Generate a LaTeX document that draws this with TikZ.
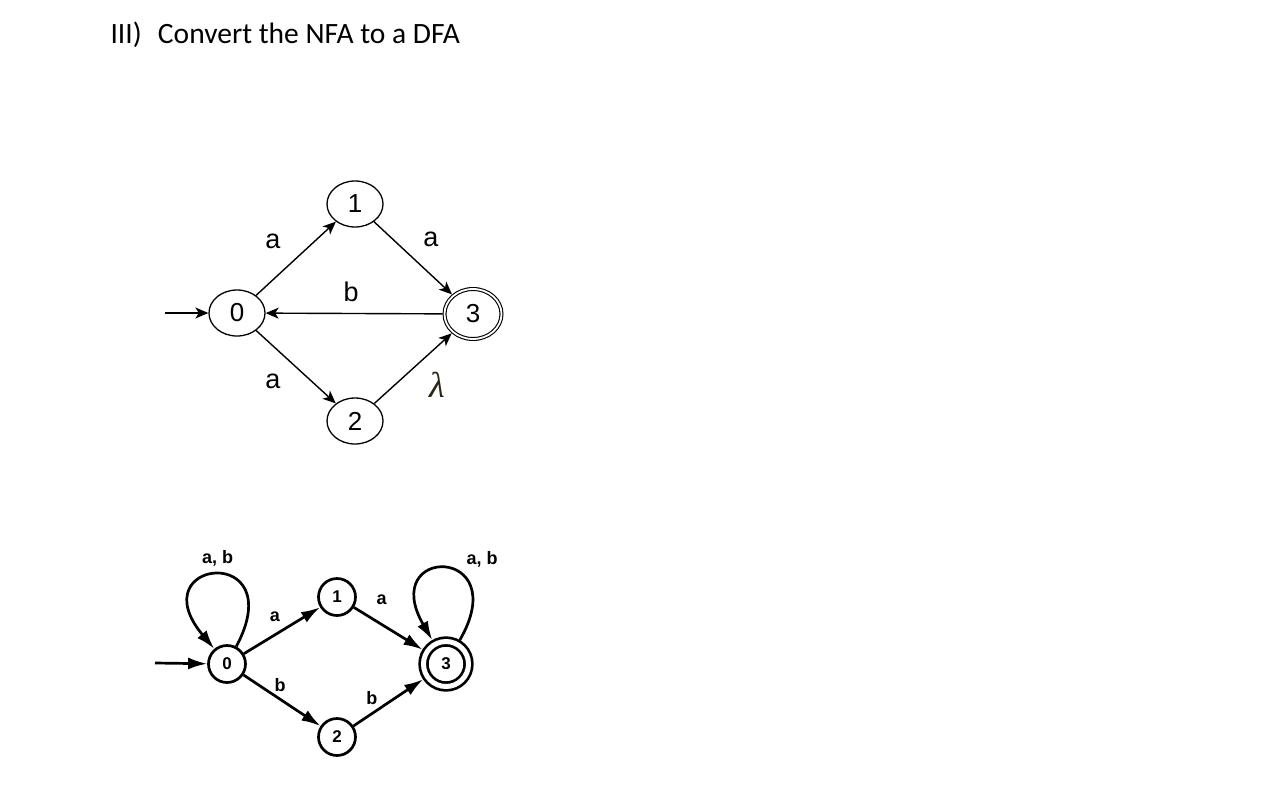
\documentclass[tikz,border=0pt]{standalone}
\usepackage{fontspec}
\setmainfont{Carlito}
\newfontfamily\arialfont{Liberation Sans}
\newfontfamily\lambdafont{Liberation Serif}
\usetikzlibrary{arrows.meta,shapes.geometric}

\begin{document}
\begin{tikzpicture}[x=1pt,y=-1pt,
  nfaState/.style={draw,ellipse,line width=1.3pt,minimum width=56pt,minimum height=46pt,inner sep=0pt,font=\arialfont\fontsize{26}{26}\selectfont},
  nfaFinal/.style={nfaState,double,double distance=1.8pt,line width=1.1pt,minimum width=57pt,minimum height=50pt,outer sep=2pt},
  nfaEdge/.style={line width=1.4pt,-{Stealth[length=13pt,width=11pt,inset=3.5pt]}},
  nfaLabel/.style={font=\arialfont\fontsize{27}{27}\selectfont,inner sep=0pt},
  dfaState/.style={draw,circle,line width=2.7pt,minimum size=37pt,inner sep=0pt,font=\arialfont\bfseries\fontsize{17}{17}\selectfont},
  dfaFinal/.style={dfaState,double,double distance=5pt,minimum size=45pt,outer sep=5pt},
  dfaEdge/.style={line width=2.7pt,-{Latex[length=19pt,width=12pt]}},
  dfaLabel/.style={font=\arialfont\bfseries\fontsize{18}{18}\selectfont,inner sep=0pt}]
\definecolor{lambdaInk}{HTML}{2B2418}
\useasboundingbox (0,0) rectangle (1287,790);
\node[anchor=base west,font=\fontsize{29.5}{29.5}\selectfont] (title) at (107,43) {III)\hspace{0.55em}Convert the NFA to a DFA};

% NFA
\node[nfaState] (n0) at (237,313) {0};
\node[nfaState] (n1) at (355,204) {1};
\node[nfaState] (n2) at (355,421) {2};
\node[nfaFinal] (n3) at (473,314) {3};
\coordinate (nstart) at (165,313);
\draw[nfaEdge] (nstart) -- (n0);
\draw[nfaEdge] (n0) -- node[nfaLabel,xshift=-23pt,yshift=17.5pt] (na01) {a} (n1);
\draw[nfaEdge] (n1) -- node[nfaLabel,xshift=18pt,yshift=18.5pt] (na13) {a} (n3);
\draw[nfaEdge] (n3) -- node[nfaLabel,xshift=-3pt,yshift=21.5pt] (nb30) {b} (n0);
\draw[nfaEdge] (n0) -- node[nfaLabel,xshift=-23pt,yshift=-14pt] (na02) {a} (n2);
\draw[nfaEdge] (n2) -- node[nfaLabel,text=lambdaInk,font=\lambdafont\itshape\fontsize{36}{36}\selectfont,xshift=24pt,yshift=-16pt] (nl23) {λ} (n3);

% DFA
\node[dfaState] (d0) at (227,664) {0};
\node[dfaState] (d1) at (337,597) {1};
\node[dfaState] (d2) at (337,737) {2};
\node[dfaFinal] (d3) at (446,664) {3};
\coordinate (dstart) at (155,663);
\draw[dfaEdge] (dstart) -- (d0);
\draw[dfaEdge] (d0) to[out=62,in=130,distance=118pt] node[dfaLabel,yshift=16pt] (dl00) {a, b} (d0);
\draw[dfaEdge] (d3) to[out=60,in=120,distance=110pt] node[dfaLabel,xshift=36pt,yshift=9pt] (dl33) {a, b} (d3);
\draw[dfaEdge] (d0) -- node[dfaLabel,xshift=-7pt,yshift=13.5pt] (da01) {a} (d1);
\draw[dfaEdge] (d1) -- node[dfaLabel,xshift=-6.5pt,yshift=28.5pt] (da13) {a} (d3);
\draw[dfaEdge] (d0) -- node[dfaLabel,xshift=-2pt,yshift=15.5pt] (db02) {b} (d2);
\draw[dfaEdge] (d2) -- node[dfaLabel,xshift=-16.5pt,yshift=4.5pt] (db23) {b} (d3);
\end{tikzpicture}
\end{document}
